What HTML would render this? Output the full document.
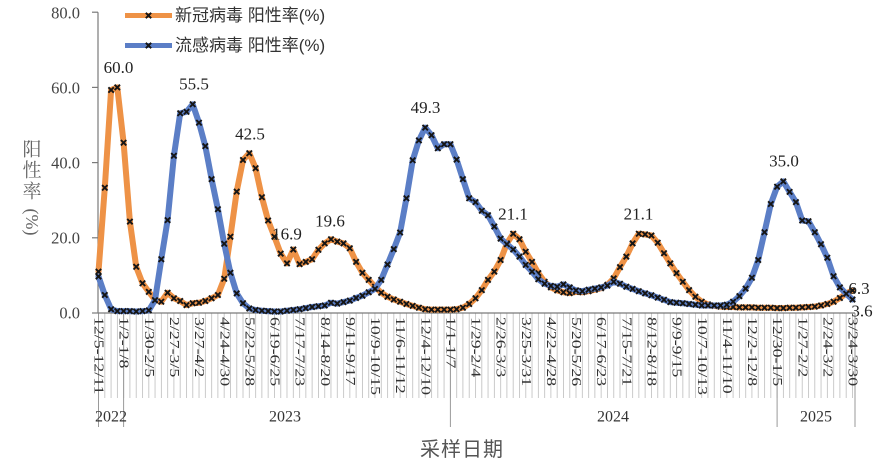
<!DOCTYPE html>
<html>
<head>
<meta charset="utf-8">
<style>
html,body{margin:0;padding:0;background:#fff;}
svg{display:block;}
.tk{font-family:"Liberation Serif","Noto Serif CJK SC",serif;font-size:16.5px;fill:#444;}
.dl{font-family:"Liberation Serif","Noto Serif CJK SC",serif;font-size:17px;fill:#222;}
.xl{font-family:"Liberation Serif","Noto Serif CJK SC",serif;font-size:14px;fill:#333;}
.yr{font-family:"Liberation Serif","Noto Serif CJK SC",serif;font-size:16px;fill:#333;}
.lg{font-family:"Liberation Sans","Noto Sans CJK SC",sans-serif;font-size:17px;fill:#333;}
.yt{font-family:"Liberation Serif","Noto Serif CJK SC",serif;font-size:19px;fill:#666;}
.xt{font-family:"Liberation Sans","Noto Sans CJK SC",sans-serif;font-size:20px;fill:#555;letter-spacing:1px;}
</style>
</head>
<body>
<svg width="880" height="465" viewBox="0 0 880 465" xmlns="http://www.w3.org/2000/svg">
<defs>
<marker id="mk" markerUnits="userSpaceOnUse" markerWidth="10" markerHeight="10" refX="5" refY="5" orient="0" style="overflow:visible">
<path d="M2.3,2.3L7.7,7.7M2.3,7.7L7.7,2.3" stroke="#151515" stroke-width="1.9" fill="none"/>
</marker>
<pattern id="tkp" x="98.1" y="0" width="6.283" height="100" patternUnits="userSpaceOnUse">
<rect x="0" y="0" width="0.8" height="100" fill="#bdbdbd"/>
</pattern>
</defs>
<rect width="880" height="465" fill="#fff"/>

<rect x="97.5" y="313" width="757" height="85" fill="url(#tkp)"/>
<g stroke="#9a9a9a" stroke-width="1">
<line x1="98.5" y1="313" x2="98.5" y2="427"/>
<line x1="123.6" y1="313" x2="123.6" y2="427"/>
<line x1="450.4" y1="313" x2="450.4" y2="427"/>
<line x1="777.1" y1="313" x2="777.1" y2="427"/>
<line x1="855" y1="313" x2="855" y2="427"/>
</g>

<g stroke="#7a7a7a" stroke-width="1.2">
<line x1="98" y1="12.2" x2="98" y2="313"/>
<line x1="98" y1="313" x2="855" y2="313"/>
<line x1="92" y1="12.2" x2="98" y2="12.2"/>
<line x1="92" y1="87.4" x2="98" y2="87.4"/>
<line x1="92" y1="162.6" x2="98" y2="162.6"/>
<line x1="92" y1="237.8" x2="98" y2="237.8"/>
<line x1="92" y1="313" x2="98" y2="313"/>
</g>

<g class="tk" text-anchor="end" dominant-baseline="central">
<text x="80" y="13">80.0</text>
<text x="80" y="88">60.0</text>
<text x="80" y="163">40.0</text>
<text x="80" y="238">20.0</text>
<text x="80" y="313">0.0</text>
</g>

<g class="yt" text-anchor="middle" dominant-baseline="central">
<text x="32" y="150">阳</text>
<text x="32" y="171">性</text>
<text x="32" y="192">率</text>
<text x="0" y="0" transform="translate(32,222) rotate(90)" style="font-family:'Liberation Serif',serif;font-size:18px">(%)</text>
</g>

<polyline fill="none" stroke="#EE9246" stroke-width="6" stroke-linejoin="round" stroke-linecap="round"
marker-start="url(#mk)" marker-mid="url(#mk)" marker-end="url(#mk)"
points="98.5,271.6 104.8,187.8 111.1,90.0 117.3,87.4 123.6,142.7 129.9,221.6 136.2,266.8 142.5,283.3 148.8,291.9 155.0,299.8 161.3,301.7 167.6,292.7 173.9,298.3 180.2,301.0 186.5,305.1 192.7,303.2 199.0,302.8 205.3,301.0 211.6,298.3 217.9,295.0 224.2,278.8 230.4,236.7 236.7,191.6 243.0,160.0 249.3,153.2 255.6,168.2 261.9,197.2 268.1,220.5 274.4,236.7 280.7,253.6 287.0,263.4 293.3,249.5 299.6,264.1 305.8,261.9 312.1,259.2 318.4,249.8 324.7,243.4 331.0,239.3 337.3,241.6 343.5,243.4 349.8,248.3 356.1,261.9 362.4,272.8 368.7,279.9 375.0,286.7 381.2,292.7 387.5,296.8 393.8,299.5 400.1,301.7 406.4,304.0 412.7,305.9 418.9,307.7 425.2,309.2 431.5,309.6 437.8,309.6 444.1,309.6 450.4,309.6 456.6,309.2 462.9,307.7 469.2,304.0 475.5,298.3 481.8,290.1 488.0,279.9 494.3,271.6 500.6,260.0 506.9,243.4 513.2,233.7 519.5,239.3 525.7,251.7 532.0,261.9 538.3,273.1 544.6,281.8 550.9,287.4 557.2,290.4 563.4,292.3 569.7,293.1 576.0,291.9 582.3,292.3 588.6,291.2 594.9,289.7 601.1,288.2 607.4,284.8 613.7,278.4 620.0,267.1 626.3,256.6 632.6,243.4 638.8,233.7 645.1,234.4 651.4,235.5 657.7,242.7 664.0,253.2 670.3,263.4 676.5,273.1 682.8,281.8 689.1,290.1 695.4,296.8 701.7,301.7 708.0,304.4 714.2,305.9 720.5,306.6 726.8,307.0 733.1,307.0 739.4,307.4 745.6,307.4 751.9,307.4 758.2,307.7 764.5,307.7 770.8,307.7 777.1,308.1 783.3,308.1 789.6,307.7 795.9,307.7 802.2,307.4 808.5,307.0 814.8,306.6 821.0,305.5 827.3,304.0 833.6,301.7 839.9,298.0 846.2,293.4 852.5,290.5"/>

<polyline fill="none" stroke="#5B7EC6" stroke-width="6" stroke-linejoin="round" stroke-linecap="round"
marker-start="url(#mk)" marker-mid="url(#mk)" marker-end="url(#mk)"
points="98.5,276.5 104.8,295.0 111.1,309.2 117.3,311.1 123.6,311.1 129.9,311.1 136.2,311.5 142.5,311.1 148.8,310.4 155.0,300.2 161.3,259.2 167.6,220.1 173.9,155.8 180.2,113.3 186.5,111.8 192.7,104.3 199.0,122.7 205.3,146.1 211.6,179.1 217.9,209.2 224.2,243.8 230.4,272.8 236.7,293.4 243.0,303.2 249.3,308.5 255.6,310.0 261.9,310.7 268.1,311.1 274.4,311.5 280.7,311.5 287.0,310.7 293.3,310.0 299.6,309.2 305.8,308.1 312.1,307.0 318.4,306.2 324.7,305.5 331.0,302.8 337.3,303.6 343.5,302.1 349.8,300.6 356.1,298.0 362.4,295.7 368.7,292.3 375.0,288.9 381.2,279.9 387.5,264.5 393.8,249.1 400.1,232.5 406.4,198.3 412.7,160.3 418.9,140.4 425.2,127.6 431.5,135.2 437.8,148.3 444.1,144.2 450.4,144.2 456.6,159.6 462.9,179.1 469.2,198.3 475.5,202.1 481.8,210.7 488.0,215.2 494.3,226.5 500.6,238.6 506.9,244.2 513.2,249.5 519.5,256.6 525.7,264.9 532.0,271.6 538.3,279.2 544.6,283.7 550.9,285.9 557.2,286.7 563.4,284.4 569.7,287.4 576.0,290.4 582.3,291.2 588.6,289.7 594.9,288.6 601.1,287.4 607.4,285.6 613.7,281.8 620.0,283.7 626.3,286.7 632.6,288.9 638.8,291.2 645.1,293.4 651.4,295.3 657.7,297.6 664.0,299.8 670.3,302.1 676.5,302.8 682.8,303.2 689.1,304.0 695.4,304.7 701.7,305.5 708.0,305.5 714.2,305.5 720.5,305.5 726.8,304.7 733.1,301.7 739.4,296.1 745.6,288.6 751.9,277.7 758.2,260.0 764.5,232.2 770.8,204.0 777.1,186.7 783.3,181.4 789.6,191.9 795.9,202.1 802.2,220.5 808.5,221.3 814.8,232.2 821.0,244.2 827.3,257.7 833.6,276.2 839.9,287.4 846.2,293.8 852.5,299.5"/>

<g class="dl" text-anchor="middle" dominant-baseline="central">
<text x="118.5" y="67.5">60.0</text>
<text x="194" y="84">55.5</text>
<text x="250" y="134">42.5</text>
<text x="287" y="234">16.9</text>
<text x="330" y="221">19.6</text>
<text x="425.5" y="107.5">49.3</text>
<text x="513" y="214">21.1</text>
<text x="638.5" y="214">21.1</text>
<text x="784" y="161">35.0</text>
<text x="859" y="288.5">6.3</text>
<text x="862" y="311">3.6</text>
</g>

<g class="xl" dominant-baseline="central">
<text transform="translate(98.5,317) rotate(90) scale(1.27,1)">12/5-12/11</text>
<text transform="translate(123.6,317) rotate(90) scale(1.27,1)">1/2-1/8</text>
<text transform="translate(148.8,317) rotate(90) scale(1.27,1)">1/30-2/5</text>
<text transform="translate(173.9,317) rotate(90) scale(1.27,1)">2/27-3/5</text>
<text transform="translate(199.0,317) rotate(90) scale(1.27,1)">3/27-4/2</text>
<text transform="translate(224.2,317) rotate(90) scale(1.27,1)">4/24-4/30</text>
<text transform="translate(249.3,317) rotate(90) scale(1.27,1)">5/22-5/28</text>
<text transform="translate(274.4,317) rotate(90) scale(1.27,1)">6/19-6/25</text>
<text transform="translate(299.6,317) rotate(90) scale(1.27,1)">7/17-7/23</text>
<text transform="translate(324.7,317) rotate(90) scale(1.27,1)">8/14-8/20</text>
<text transform="translate(349.8,317) rotate(90) scale(1.27,1)">9/11-9/17</text>
<text transform="translate(375.0,317) rotate(90) scale(1.27,1)">10/9-10/15</text>
<text transform="translate(400.1,317) rotate(90) scale(1.27,1)">11/6-11/12</text>
<text transform="translate(425.2,317) rotate(90) scale(1.27,1)">12/4-12/10</text>
<text transform="translate(450.4,317) rotate(90) scale(1.27,1)">1/1-1/7</text>
<text transform="translate(475.5,317) rotate(90) scale(1.27,1)">1/29-2/4</text>
<text transform="translate(500.6,317) rotate(90) scale(1.27,1)">2/26-3/3</text>
<text transform="translate(525.7,317) rotate(90) scale(1.27,1)">3/25-3/31</text>
<text transform="translate(550.9,317) rotate(90) scale(1.27,1)">4/22-4/28</text>
<text transform="translate(576.0,317) rotate(90) scale(1.27,1)">5/20-5/26</text>
<text transform="translate(601.1,317) rotate(90) scale(1.27,1)">6/17-6/23</text>
<text transform="translate(626.3,317) rotate(90) scale(1.27,1)">7/15-7/21</text>
<text transform="translate(651.4,317) rotate(90) scale(1.27,1)">8/12-8/18</text>
<text transform="translate(676.5,317) rotate(90) scale(1.27,1)">9/9-9/15</text>
<text transform="translate(701.7,317) rotate(90) scale(1.27,1)">10/7-10/13</text>
<text transform="translate(726.8,317) rotate(90) scale(1.27,1)">11/4-11/10</text>
<text transform="translate(751.9,317) rotate(90) scale(1.27,1)">12/2-12/8</text>
<text transform="translate(777.1,317) rotate(90) scale(1.27,1)">12/30-1/5</text>
<text transform="translate(802.2,317) rotate(90) scale(1.27,1)">1/27-2/2</text>
<text transform="translate(827.3,317) rotate(90) scale(1.27,1)">2/24-3/2</text>
<text transform="translate(852.5,317) rotate(90) scale(1.27,1)">3/24-3/30</text>
</g>

<g class="yr" text-anchor="middle" dominant-baseline="central">
<text x="111" y="417">2022</text>
<text x="285" y="417">2023</text>
<text x="613" y="417">2024</text>
<text x="816" y="417">2025</text>
</g>

<text class="xt" x="462" y="450" text-anchor="middle" dominant-baseline="central">采样日期</text>

<polyline fill="none" stroke="#EE9246" stroke-width="5" points="125,15.5 148.5,15.5 172,15.5" marker-mid="url(#mk)"/>
<text class="lg" x="175" y="15.5" dominant-baseline="central">新冠病毒 阳性率(%)</text>
<polyline fill="none" stroke="#5B7EC6" stroke-width="5" points="125,45.5 148.5,45.5 172,45.5" marker-mid="url(#mk)"/>
<text class="lg" x="175" y="45.5" dominant-baseline="central">流感病毒 阳性率(%)</text>
</svg>
</body>
</html>
